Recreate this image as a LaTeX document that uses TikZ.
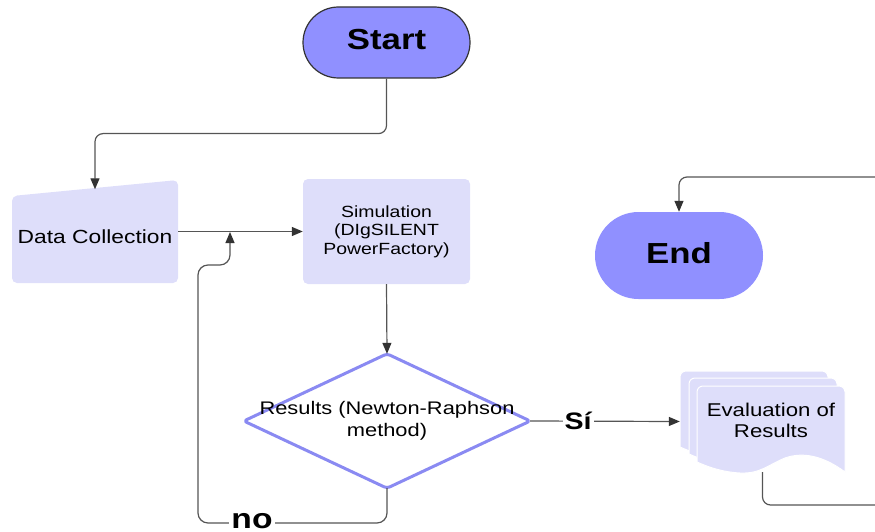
\documentclass[tikz,border=0pt]{standalone}
\usepackage{fontspec}
\setmainfont{Liberation Sans}
\newfontfamily\lf[FakeStretch=1.2]{Liberation Sans}
\usetikzlibrary{arrows.meta,shapes.misc,calc}
\definecolor{lav}{HTML}{DEDEFA}
\definecolor{pill}{HTML}{9090FF}
\definecolor{dia}{HTML}{8A8AF2}
\definecolor{ln}{HTML}{555555}
\definecolor{tip}{HTML}{333333}
\newcommand\docpath{(697,462) -- (697,392) arc[start angle=180,end angle=270,radius=6] -- (839,386) arc[start angle=270,end angle=360,radius=6] -- (845,472) .. controls (822,455) and (802,452) .. (785,458) .. controls (768,465) and (760,474) .. (740,473) .. controls (722,472) and (708,467) .. (697,462) -- cycle}
\begin{document}
\begin{tikzpicture}[x=1pt,y=-1pt,
  line/.style={draw=ln, line width=1.2pt},
  conn/.style={line, -{Triangle[length=11pt,width=9pt,color=tip,fill=tip]}},
  pillbox/.style={rounded rectangle, fill=pill, inner sep=0, text depth=6pt, font=\lf\fontsize{29}{34}\selectfont\bfseries},
  lavbox/.style={fill=lav, rounded corners=5, inner sep=0, align=center},
  lbl/.style={fill=white, inner xsep=2pt, inner ysep=0pt, font=\lf\bfseries},
  doc/.style={fill=lav, draw=white, line width=1pt}]
\useasboundingbox (0,0) rectangle (875,532);
% start
\node[pillbox, draw=tip, line width=1.2pt, minimum width=167, minimum height=71] (start) at (386.5,42.5) {Start};
% data collection (manual input)
\fill[lav, rounded corners=5] (12,196) -- (178,180) -- (178,283) -- (12,283) -- cycle;
\node[minimum width=166, minimum height=95, inner sep=0, font=\lf\fontsize{19}{22}\selectfont] (data) at (95,237) {Data Collection};
% simulation
\node[lavbox, minimum width=167, minimum height=105, font=\lf\fontsize{16.2}{18.5}\selectfont] (sim) at (386.5,231.5) {Simulation\\(DIgSILENT\\PowerFactory)};
% decision
\node[minimum width=286, minimum height=134, inner sep=0] (dec) at (387,421) {};
\draw[dia, line width=3pt, line join=round, rounded corners=3, fill=white] (dec.north) -- (dec.east) -- (dec.south) -- (dec.west) -- cycle;
\node[align=center, inner sep=0, font=\lf\fontsize{18.2}{22}\selectfont] (dectext) at (387,421) {Results (Newton-Raphson\\method)};
% evaluation (multi document)
\fill[doc, shift={(-17,-15)}] \docpath;
\fill[doc, shift={(-8,-8)}] \docpath;
\fill[doc] \docpath;
\node[minimum width=165, minimum height=101, inner sep=0] (eval) at (762.5,421.5) {};
\node[align=center, inner sep=0, font=\lf\fontsize{18.5}{21}\selectfont] (evaltext) at (771,420) {Evaluation of\\Results};
% end
\node[pillbox, minimum width=168, minimum height=87] (end) at (679,255.5) {End};
% free ends
\coordinate (merge) at (230,232);
\coordinate (endin) at (875,177);
\coordinate (evalout) at (875,505);
% connectors
\draw[conn, rounded corners=8] (start.south) -- ++(0,55) -| (data.north);
\draw[conn] (data.east |- sim.west) -- (sim.west);
\draw[conn] (sim.south) -- (dec.north);
\draw[conn] (dec.east) -- (eval.west);
\node[lbl, font=\lf\bfseries\fontsize{23.8}{28}\selectfont] (si) at (578,421) {Sí};
\draw[conn, rounded corners=10] (dec.south) -- (dec.south |- 0,523) -- (198,523) -- (198,265) -- (230,265) -- (merge);
\node[lbl, anchor=base, font=\lf\bfseries\fontsize{28}{34}\selectfont] (no) at (252,528.5) {no};
\draw[conn, rounded corners=8] (endin) -| (end.north);
\draw[line, rounded corners=8] (eval.south) |- (evalout);
\end{tikzpicture}
\end{document}
